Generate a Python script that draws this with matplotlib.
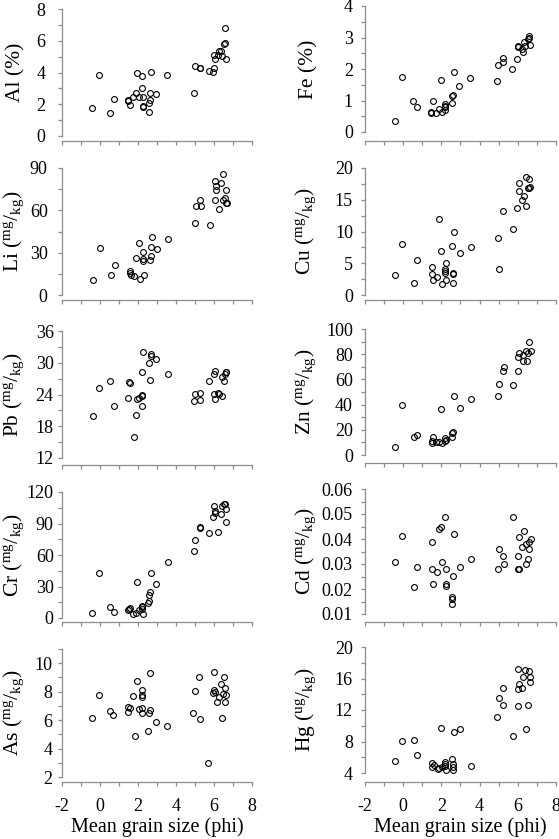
import matplotlib
matplotlib.use("Agg")
import matplotlib.pyplot as plt
from matplotlib.ticker import MultipleLocator

plt.rcParams['font.family'] = ['Liberation Serif', 'DejaVu Serif']
plt.rcParams['mathtext.fontset'] = 'custom'
plt.rcParams['mathtext.rm'] = 'Liberation Serif'
plt.rcParams['mathtext.it'] = 'Liberation Serif:italic'

# ---- data ----
al_x = [-0.41, -0.06, 0.53, 0.73, 1.46, 1.48, 1.58, 1.74, 1.88, 1.97, 2.06, 2.21, 2.21, 2.25,
        2.25, 2.25, 2.58, 2.58, 2.63, 2.62, 2.67, 2.97, 3.54, 4.94, 5.01, 5.26, 5.27, 5.74,
        5.97, 6.02, 6.02, 6.07, 6.20, 6.29, 6.37, 6.43, 6.55, 6.58, 6.58, 6.65]
al_y = [1.79, 3.84, 1.45, 2.31, 2.23, 2.27, 1.97, 2.48, 2.71, 3.95, 2.48, 3.78, 3.05, 2.48,
        1.89, 1.81, 1.49, 2.10, 2.29, 2.73, 4.03, 2.65, 3.82, 2.71, 4.41, 4.29, 4.26, 4.10,
        4.01, 4.31, 5.13, 4.85, 5.13, 5.36, 5.36, 5.02, 5.82, 5.88, 6.81, 4.87]

fe_x = [-0.43, -0.06, 0.51, 0.71, 1.46, 1.46, 1.56, 1.73, 1.86, 1.96, 2.01, 2.17, 2.19, 2.19,
        2.21, 2.54, 2.57, 2.61, 2.64, 2.94, 3.51, 4.91, 4.98, 5.21, 5.24, 5.71, 5.96, 5.99,
        6.01, 6.20, 6.25, 6.34, 6.39, 6.53, 6.57, 6.57, 6.62]
fe_y = [0.34, 1.76, 0.97, 0.78, 0.59, 0.63, 1.00, 0.59, 0.73, 1.65, 0.64, 0.71, 0.79, 0.89,
        0.83, 0.93, 1.13, 1.18, 1.92, 1.47, 1.73, 1.61, 2.14, 2.22, 2.36, 2.00, 2.31, 2.72,
        2.69, 2.62, 2.55, 2.87, 2.74, 2.94, 3.04, 2.99, 2.77]

li_x = [-0.34, 0.01, 0.60, 0.80, 1.57, 1.57, 1.64, 1.81, 1.93, 2.06, 2.11, 2.28, 2.28, 2.28,
        2.30, 2.65, 2.67, 2.67, 2.72, 3.02, 3.61, 5.01, 5.06, 5.29, 5.34, 5.80, 6.04, 6.08,
        6.09, 6.13, 6.27, 6.36, 6.46, 6.46, 6.60, 6.65, 6.65, 6.71]
li_y = [10.6, 33.2, 14.1, 21.4, 16.7, 15.3, 13.9, 13.4, 26.2, 36.8, 11.5, 30.4, 24.3, 25.2,
        14.4, 24.7, 27.6, 33.9, 41.0, 32.5, 39.8, 50.7, 62.9, 67.2, 63.1, 49.7, 67.6, 81.1,
        74.2, 77.3, 60.6, 79.4, 86.0, 67.6, 68.8, 74.2, 65.5, 65.0]

cu_x = [-0.41, -0.06, 0.54, 0.71, 1.49, 1.49, 1.57, 1.78, 1.89, 1.99, 2.05, 2.20, 2.20, 2.20,
        2.24, 2.24, 2.59, 2.61, 2.62, 2.57, 2.66, 2.96, 3.55, 4.95, 5.02, 5.25, 5.74, 5.97,
        6.04, 6.06, 6.21, 6.30, 6.41, 6.44, 6.60, 6.60, 6.63, 6.56]
cu_y = [3.21, 8.00, 1.89, 5.58, 4.37, 3.37, 2.32, 2.79, 12.0, 6.95, 1.74, 4.05, 3.74, 3.53,
        5.00, 2.32, 1.95, 3.26, 3.53, 7.79, 10.0, 6.68, 7.53, 8.95, 4.16, 13.26, 10.42, 13.68,
        17.68, 16.42, 15.0, 15.53, 18.58, 14.05, 18.26, 16.89, 17.0, 16.79]

pb_x = [-0.38, -0.03, 0.56, 0.75, 1.50, 1.52, 1.59, 1.78, 1.89, 1.97, 2.04, 2.20, 2.23, 2.23,
        2.22, 2.25, 2.60, 2.62, 2.67, 2.70, 2.97, 3.56, 4.93, 5.00, 5.26, 5.28, 5.74, 6.00,
        6.03, 6.05, 6.01, 6.21, 6.28, 6.40, 6.41, 6.54, 6.57, 6.62, 6.66]
pb_y = [19.9, 25.3, 26.5, 21.9, 23.3, 26.3, 26.2, 15.9, 20.1, 23.1, 23.3, 23.8, 23.9, 21.9,
        28.3, 32.1, 29.9, 26.8, 31.6, 31.3, 30.8, 27.9, 22.7, 24.1, 23.0, 24.3, 26.5, 27.8,
        23.1, 28.4, 24.1, 24.2, 24.1, 23.8, 27.3, 26.6, 27.8, 28.2, 28.3]

zn_x = [-0.41, -0.04, 0.54, 0.73, 1.49, 1.49, 1.57, 1.73, 1.85, 1.99, 2.03, 2.19, 2.20, 2.22,
        2.54, 2.57, 2.59, 2.64, 2.96, 3.53, 4.94, 5.01, 5.25, 5.27, 5.74, 5.99, 6.02, 6.06,
        6.25, 6.29, 6.42, 6.46, 6.56, 6.60, 6.69]
zn_y = [6.5, 39.9, 14.1, 15.7, 9.7, 11.0, 14.4, 10.7, 10.7, 36.6, 9.9, 11.0, 13.1, 12.3,
        14.4, 17.5, 18.0, 46.5, 37.1, 44.1, 46.5, 56.4, 66.8, 70.2, 55.9, 66.8, 77.5, 80.7,
        74.9, 79.1, 82.2, 74.7, 80.9, 89.6, 82.8]

cr_x = [-0.40, -0.03, 0.56, 0.74, 1.50, 1.52, 1.59, 1.76, 1.89, 1.97, 2.04, 2.22, 2.22, 2.22,
        2.25, 2.56, 2.60, 2.60, 2.62, 2.67, 2.95, 3.56, 4.93, 5.02, 5.25, 5.27, 5.74, 5.96,
        6.00, 6.05, 6.08, 6.21, 6.36, 6.40, 6.54, 6.57, 6.61, 6.64]
cr_y = [5.0, 42.8, 10.9, 5.6, 7.2, 8.8, 10.0, 3.4, 5.0, 34.1, 7.2, 11.9, 10.3, 8.8,
        3.8, 14.1, 16.3, 21.9, 24.4, 42.5, 32.5, 53.4, 63.4, 74.4, 85.3, 86.9, 81.3, 96.3,
        106.3, 102.2, 100.3, 81.9, 98.8, 106.3, 108.1, 108.8, 103.4, 91.9]

cd_x = [-0.41, -0.04, 0.54, 0.73, 1.49, 1.49, 1.57, 1.77, 1.87, 1.99, 2.03, 2.20, 2.22, 2.22,
        2.22, 2.57, 2.57, 2.57, 2.62, 2.64, 2.96, 3.53, 4.94, 5.01, 5.25, 5.29, 5.74, 5.99,
        6.04, 5.99, 6.07, 6.21, 6.30, 6.41, 6.44, 6.56, 6.60, 6.60, 6.67]
cd_y = [0.0310, 0.0411, 0.0210, 0.0290, 0.0390, 0.0281, 0.0221, 0.0269, 0.0440, 0.0450,
        0.0310, 0.0490, 0.0281, 0.0219, 0.0211, 0.0170, 0.0160, 0.0141, 0.0251, 0.0420,
        0.0289, 0.0322, 0.0281, 0.0361, 0.0331, 0.0299, 0.0490, 0.0331, 0.0410, 0.0281,
        0.0281, 0.0369, 0.0432, 0.0381, 0.0301, 0.0322, 0.0362, 0.0389, 0.0400]

as_x = [-0.41, -0.06, 0.53, 0.71, 1.46, 1.48, 1.58, 1.74, 1.86, 1.97, 2.06, 2.20, 2.20, 2.21,
        2.20, 2.23, 2.56, 2.58, 2.63, 2.65, 2.93, 3.52, 4.92, 4.99, 5.24, 5.26, 5.71, 5.99,
        5.95, 6.02, 6.06, 6.18, 6.27, 6.37, 6.41, 6.46, 6.53, 6.58, 6.58, 6.64]
as_y = [6.14, 7.78, 6.63, 6.37, 6.54, 6.91, 6.87, 7.73, 4.90, 8.78, 6.77, 8.13, 7.80, 7.64,
        6.84, 6.47, 5.23, 6.49, 6.68, 9.30, 5.84, 5.60, 6.47, 8.06, 9.00, 6.05, 3.00, 9.35,
        7.89, 8.15, 8.01, 7.24, 7.61, 8.55, 6.14, 7.82, 9.00, 7.29, 8.29, 7.75]

hg_x = [-0.42, -0.06, 0.54, 0.71, 1.49, 1.50, 1.61, 1.80, 1.87, 1.99, 2.03, 2.17, 2.19, 2.20,
        2.24, 2.55, 2.59, 2.61, 2.62, 2.64, 2.96, 3.53, 4.92, 5.01, 5.25, 5.23, 5.74, 5.99,
        6.02, 6.02, 6.07, 6.21, 6.28, 6.39, 6.42, 6.53, 6.60, 6.62, 6.65]
hg_y = [5.56, 8.08, 8.21, 6.23, 5.31, 4.72, 5.05, 4.55, 4.63, 9.73, 4.80, 4.93, 5.18, 5.39,
        4.38, 5.77, 5.14, 4.76, 4.34, 9.22, 9.64, 4.93, 11.12, 13.56, 14.78, 12.67, 8.72, 14.69,
        17.18, 12.55, 15.28, 14.74, 16.17, 17.05, 9.64, 12.59, 16.97, 16.25, 15.54]

unit = r'($^{\mathrm{mg}}/_{\mathrm{kg}}$)'
labels = ['Al (%)', 'Fe (%)', 'Li ' + unit, 'Cu ' + unit, 'Pb ' + unit, 'Zn ' + unit,
          'Cr ' + unit, 'Cd ' + unit, 'As ' + unit, r'Hg ($^{\mathrm{ug}}/_{\mathrm{kg}}$)']
xs = [al_x, fe_x, li_x, cu_x, pb_x, zn_x, cr_x, cd_x, as_x, hg_x]
ys = [al_y, fe_y, li_y, cu_y, pb_y, zn_y, cr_y, cd_y, as_y, hg_y]
y_lims = [(0, 8), (0, 4), (0, 90), (0, 20), (12, 36), (0, 100), (0, 120), (0.01, 0.06),
          (2, 11), (4, 20)]
y_major = [2, 1, 30, 5, 6, 20, 30, 0.01, 2, 4]
y_minor = [1, 0.5, 15, 2.5, 3, 10, 15, 0.005, 1, 2]
x_ticks = [-2, 0, 2, 4, 6, 8]

# ---- layout in pixels (top of y range, bottom of y range, x-axis line) ----
W, H = 559, 839
rows = [(9, 136, 141), (6, 132, 141), (168, 295, 300), (168, 295, 300),
        (331, 458, 465), (329, 455, 463), (492, 618, 622), (489, 614, 622),
        (649, 777, 782), (647, 773, 782)]
cols = [(61.7, 190.3), (365, 191)]
# gap (px) between y spine and right edge of y tick labels
label_gap = [16, 12, 14, 12, 8, 12, 8, 12, 9, 12]
px2pt = 72 / 100
tick_len = 3.2

fig = plt.figure(figsize=(W / 100, H / 100), dpi=100)
grey = '#8c8c8c'

for i in range(10):
    c = i % 2
    top, bot, xline = rows[i]
    x0, w = cols[c]
    ax = fig.add_axes([x0 / W, 1 - bot / H, w / W, (bot - top) / H])
    ax.plot(xs[i], ys[i], 'o', mfc='none', mec='black', ms=4.2, mew=0.8, clip_on=False)

    ax.set_xlim(-2, 8)
    ax.set_ylim(*y_lims[i])
    for s in ('top', 'right'):
        ax.spines[s].set_visible(False)
    for s in ('left', 'bottom'):
        ax.spines[s].set_color(grey)
        ax.spines[s].set_linewidth(0.9)
    ax.spines['bottom'].set_position(('outward', (xline - bot) * px2pt))

    ax.xaxis.set_major_locator(MultipleLocator(2))
    ax.xaxis.set_minor_locator(MultipleLocator(1))
    ax.yaxis.set_major_locator(MultipleLocator(y_major[i]))
    ax.yaxis.set_minor_locator(MultipleLocator(y_minor[i]))
    ax.tick_params(which='both', direction='out', length=tick_len, width=0.9, color=grey,
                   labelsize=13)
    ax.tick_params(axis='y', pad=label_gap[i] * px2pt - tick_len)
    if i == 7:
        ax.yaxis.set_major_formatter(plt.FormatStrFormatter('%.2f'))

    if i >= 8:
        ax.set_xticks(x_ticks)
        ax.set_xticklabels([str(t) for t in x_ticks])
        ax.tick_params(axis='x', pad=8)
        ax.set_xlabel('Mean grain size (phi)', fontsize=14.5, labelpad=2)
    else:
        ax.tick_params(axis='x', labelbottom=False)

    ax.set_ylabel(labels[i], fontsize=15.5)
    ax.yaxis.set_label_coords(-0.19 if c == 0 else -0.245, 0.5)

fig.savefig('out.png', dpi=100)
